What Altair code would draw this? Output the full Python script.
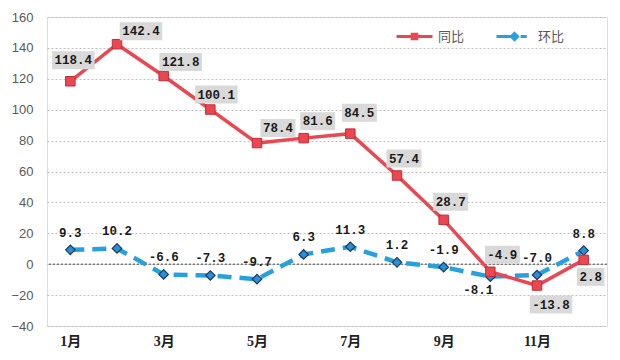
import altair as alt
import pandas as pd

# ---------------- data ----------------
months = ["1月", "2月", "3月", "4月", "5月", "6月", "7月", "8月", "9月", "10月", "11月", "12月"]
yoy = [118.4, 142.4, 121.8, 100.1, 78.4, 81.6, 84.5, 57.4, 28.7, -4.9, -13.8, 2.8]   # 同比
mom = [9.3, 10.2, -6.6, -7.3, -9.7, 6.3, 11.3, 1.2, -1.9, -8.1, -7.0, 8.8]           # 环比
series_names = ["同比", "环比"]
axis_month_idx = [1, 3, 5, 7, 9, 11]
y_ticks = [-40, -20, 0, 20, 40, 60, 80, 100, 120, 140, 160]

# ---------------- style / layout ----------------
RED = "#ea4851"
BLUE = "#26a1db"
W, H = 560, 309
Y0, Y1 = -40, 160
N = len(months)
step_px = W / N
px_per_unit = H / (Y1 - Y0)
LABEL_FONT = "Liberation Mono"
LABEL_SIZE = 12.5
CHAR_W = 7.5

# label offsets in pixels (dx, dy) relative to each point
default_off = {"同比": (10, -16), "环比": (0, -17)}
special_off = {
    "同比": {1: (3, -21), 2: (24, -13), 3: (17, -14), 4: (6, -15), 5: (21, -15),
             6: (14, -17), 7: (9, -21), 8: (7, -17), 9: (7, -18), 10: (12, -17),
             11: (14, 19), 12: (7, 17)},
    "环比": {10: (-12, 13)},
}

rows = []
for s, vals in zip(series_names, [yoy, mom]):
    for i, v in enumerate(vals):
        idx = i + 1
        dx, dy = special_off[s].get(idx, default_off[s])
        rows.append({
            "idx": idx, "series": s, "value": v, "label": f"{v:.1f}",
            "lx": idx + dx / step_px, "ly": v - dy / px_per_unit,
        })
df = pd.DataFrame(rows)

month_expr = "[" + ",".join(f"'{m}'" for m in months) + "][datum.value - 1]"

x_scale = alt.Scale(domain=[0.5, N + 0.5], nice=False, zero=False)
x_axis = alt.Axis(values=axis_month_idx, labelExpr=month_expr, title=None,
                  grid=False, ticks=False, domain=False, labelPadding=8,
                  labelFont="Liberation Serif, Noto Sans CJK SC", labelFontWeight="bold",
                  labelFontSize=14, labelColor="#222")
y_scale = alt.Scale(domain=[Y0, Y1], nice=False)
y_axis = alt.Axis(values=y_ticks, title=None, ticks=False, domain=False,
                  labelPadding=14, labelFont="Liberation Sans", labelFontSize=13,
                  labelColor="#595959", grid=True, gridColor="#bdbdbd",
                  gridDash=[2, 2], gridWidth=1, labelOverlap=False)


def X(field):
    return alt.X(f"{field}:Q", scale=x_scale, axis=x_axis)


def Y(field):
    return alt.Y(f"{field}:Q", scale=y_scale, axis=y_axis)


base = alt.Chart(df)

zero = alt.Chart(pd.DataFrame({"y": [0]})).mark_rule(
    color="#7a7a7a", strokeDash=[2, 2], strokeWidth=1.6).encode(y=Y("y"))

SYM_YOY = "M-1,0H1M-0.13,-0.13H0.13V0.13H-0.13Z"
SYM_MOM = "M-1,0H-0.22M0,-0.17L0.17,0L0,0.17L-0.17,0ZM0.34,0H0.68"


def series_legend(x, sym, col):
    return alt.Legend(
        title=None, orient="none", legendX=x, legendY=0, direction="horizontal",
        symbolType=sym, symbolSize=1296, symbolStrokeWidth=3, symbolFillColor=col,
        symbolStrokeColor=col,
        labelFont="Noto Sans CJK SC", labelFontSize=13, labelColor="#595959", labelOffset=4,
    )


line_yoy = base.transform_filter("datum.series === '同比'").mark_line(strokeWidth=3.5).encode(
    x=X("idx"), y=Y("value"),
    color=alt.Color("series:N", scale=alt.Scale(domain=[series_names[0]], range=[RED]),
                    legend=series_legend(348, SYM_YOY, RED)),
)
line_mom = base.transform_filter("datum.series === '环比'").mark_line(
    strokeWidth=4.5, strokeDash=[14, 8]).encode(
    x=X("idx"), y=Y("value"),
    color=alt.Color("series:N", scale=alt.Scale(domain=[series_names[1]], range=[BLUE]),
                    legend=series_legend(448, SYM_MOM, BLUE)),
)

pts_yoy = base.transform_filter("datum.series === '同比'").mark_point(
    shape="square", filled=True, size=90, color=RED, stroke="#c42c36", strokeWidth=1, opacity=1
).encode(x=X("idx"), y=Y("value"))

pts_mom = base.transform_filter("datum.series === '环比'").mark_point(
    shape="diamond", filled=True, size=90, fill="#2d8fd2", stroke="#1b3a63", strokeWidth=1.2, opacity=1
).encode(x=X("idx"), y=Y("value"))

boxes = base.transform_filter("datum.series === '同比'").transform_calculate(
    w=f"length(datum.label) * {CHAR_W} + 5"
).transform_calculate(
    box="'M' + (-datum.w / 2) + ',-9h' + datum.w + 'v18h' + (-datum.w) + 'z'"
).mark_point(filled=True, size=4, color="#d9d9d9", opacity=1, strokeWidth=0).encode(
    x=X("lx"), y=Y("ly"), shape=alt.Shape("box:N", scale=None, legend=None)
)

texts = base.mark_text(font=LABEL_FONT, fontWeight="bold", fontSize=LABEL_SIZE,
                       color="#1a1a1a", align="center", baseline="middle").encode(
    x=X("lx"), y=Y("ly"), text="label:N")

chart = alt.layer(zero, line_mom, line_yoy, pts_mom, pts_yoy, boxes, texts).resolve_scale(
    color="independent"
).properties(
    width=W, height=H,
    autosize=alt.AutoSizeParams(type="none"),
    padding={"left": 39, "top": 9, "right": 5, "bottom": 27},
).configure_view(stroke="#1a1a1a", strokeWidth=1.5).configure(background="white")

chart.save("out.html", embed_options={"renderer": "svg", "actions": False})
